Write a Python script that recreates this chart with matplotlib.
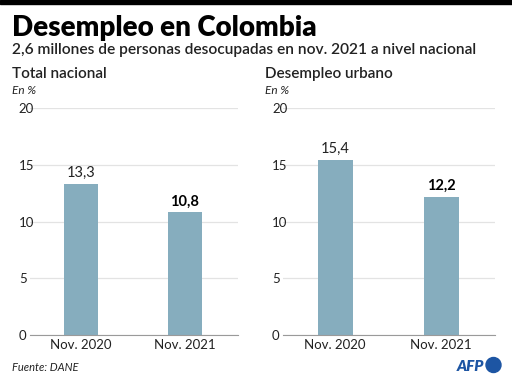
import matplotlib
matplotlib.use("Agg")
import matplotlib.pyplot as plt
from matplotlib.patches import Ellipse, Rectangle

plt.rcParams["font.family"] = ["Lato", "DejaVu Sans"]

periods = ["Nov. 2020", "Nov. 2021"]
total_nacional = [13.3, 10.8]
desempleo_urbano = [15.4, 12.2]
yticks = [0, 5, 10, 15, 20]

BAR = "#86adbe"
TXT = "#222222"
AFP_BLUE = "#1d55a3"

W, H = 512, 381
fig = plt.figure(figsize=(W / 100, H / 100), dpi=100)
fig.patches.append(Rectangle((0, 0.989), 1, 0.011, transform=fig.transFigure,
                             color="black", zorder=5))

fig.text(0.023, 0.905, "Desempleo en Colombia", fontsize=20, fontweight="heavy",
         color="black", va="baseline")
fig.text(0.023, 0.857, "2,6 millones de personas desocupadas en nov. 2021 a nivel nacional",
         fontsize=11.15, color=TXT, va="baseline", fontweight="semibold")


def panel(rect, title, vals):
    ax = fig.add_axes(rect)
    ax.bar(range(len(vals)), vals, width=0.33, color=BAR, zorder=2)
    ax.set_xlim(-0.49, 1.51)
    ax.set_ylim(0, 20)
    ax.set_yticks(yticks)
    ax.set_xticks(range(len(periods)))
    ax.set_xticklabels(periods)
    ax.grid(axis="y", color="#e3e3e3", lw=0.9, zorder=0)
    for s in ["top", "right", "left"]:
        ax.spines[s].set_visible(False)
    ax.spines["bottom"].set_color("#9a9a9a")
    ax.tick_params(axis="y", length=0, pad=8, labelsize=9.5, labelcolor=TXT)
    ax.tick_params(axis="x", length=0, pad=3, labelsize=9.5, labelcolor=TXT)
    for lbl in ax.get_yticklabels():
        lbl.set_horizontalalignment("left")
    for i, v in enumerate(vals):
        ax.text(i, v + 0.35, f"{v:.1f}".replace(".", ","), ha="center", va="bottom",
                fontsize=10.5, color=TXT if i == 0 else "black",
                fontweight="normal" if i == 0 else "bold")
    x0 = rect[0] - 0.035
    fig.text(x0, 0.795, title, fontsize=11, fontweight="semibold", color=TXT, va="baseline")
    fig.text(x0, 0.752, "En %", fontsize=8.5, style="italic", color=TXT, va="baseline")
    return ax


panel([0.0586, 0.1207, 0.406, 0.5958], "Total nacional", total_nacional)
panel([0.553, 0.1207, 0.414, 0.5958], "Desempleo urbano", desempleo_urbano)

fig.text(0.023, 0.025, "Fuente: DANE", fontsize=8, style="italic", color=TXT)
fig.text(484 / W, 10 / H, "AFP", fontsize=11, fontweight="heavy", style="italic",
         color=AFP_BLUE, ha="right", va="baseline")
fig.patches.append(Ellipse((493.5 / W, 1 - 365 / H), 15 / W, 15 / H,
                           transform=fig.transFigure, color=AFP_BLUE))

fig.savefig("out.png", dpi=100)
